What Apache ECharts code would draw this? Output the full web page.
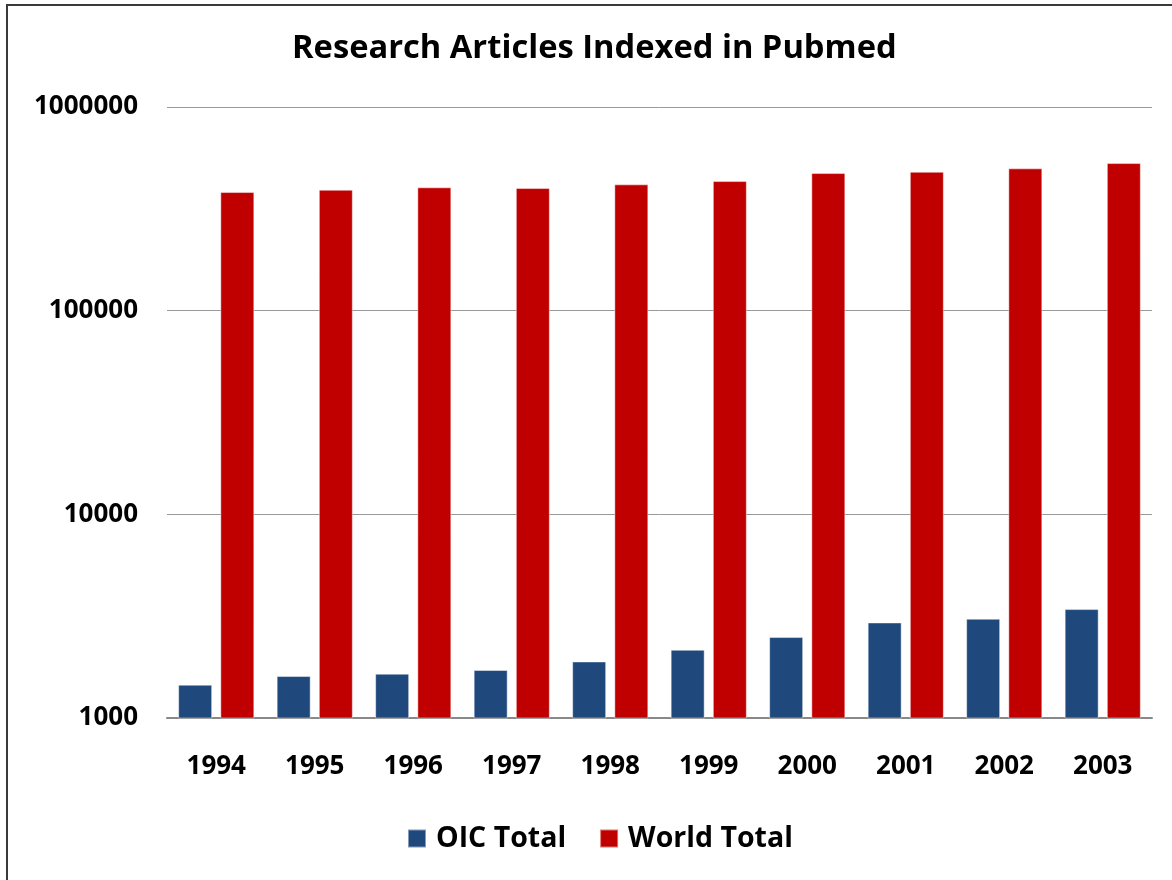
<!DOCTYPE html>
<html>
<head>
<meta charset="utf-8">
<script src="https://cdn.jsdelivr.net/npm/echarts@6/dist/echarts.min.js"></script>
<style>
  html, body { margin: 0; padding: 0; background: #fff; }
  #frame { position: absolute; left: 6px; top: 4px; width: 1200px; height: 1000px; border: 2px solid #3a3a3a; }
  #chart { position: absolute; left: 0; top: 0; width: 1172px; height: 880px; }
</style>
</head>
<body>
<div id="frame"></div>
<div id="chart"></div>
<script>
var years = ['1994', '1995', '1996', '1997', '1998', '1999', '2000', '2001', '2002', '2003'];
var oicTotal = [1457, 1607, 1650, 1720, 1895, 2163, 2497, 2945, 3071, 3426];
var worldTotal = [382300, 392400, 403200, 400000, 417000, 432900, 473900, 480900, 499700, 530500];

var font = '"Open Sans", "Liberation Sans", sans-serif';
var chart = echarts.init(document.getElementById('chart'));

chart.setOption({
  animation: false,
  title: {
    text: 'Research Articles Indexed in Pubmed',
    left: 287,
    top: 27,
    textStyle: { fontFamily: font, fontWeight: 'bold', fontSize: 32.7, color: '#000' }
  },
  legend: {
    top: 819,
    left: 402,
    itemWidth: 18,
    itemHeight: 18,
    itemGap: 33,
    icon: 'rect',
    textStyle: { fontFamily: font, fontWeight: 'bold', fontSize: 28.5, color: '#000', padding: [0, 0, 0, 5] },
    data: ['OIC Total', 'World Total']
  },
  grid: { left: 167, right: 20, top: 107, bottom: 162, containLabel: false },
  xAxis: {
    type: 'category',
    data: years,
    axisLine: { lineStyle: { color: '#888', width: 2 } },
    axisTick: { show: false },
    axisLabel: { fontFamily: font, fontWeight: 'bold', fontSize: 26, color: '#000', margin: 36 }
  },
  yAxis: {
    type: 'log',
    logBase: 10,
    min: 1000,
    max: 1000000,
    axisLine: { show: false },
    axisTick: { show: false },
    splitLine: { lineStyle: { color: '#999', width: 1 } },
    axisLabel: {
      fontFamily: font, fontWeight: 'bold', fontSize: 26, color: '#000', margin: 29,
      formatter: function (v) { return String(Math.round(v)); }
    }
  },
  series: [
    {
      name: 'OIC Total',
      type: 'bar',
      data: oicTotal,
      barWidth: 34,
      barGap: '24%',
      itemStyle: { color: '#1F497D', borderColor: 'rgba(255,255,255,0.45)', borderWidth: 1 }
    },
    {
      name: 'World Total',
      type: 'bar',
      data: worldTotal,
      barWidth: 34,
      itemStyle: { color: '#C00000', borderColor: 'rgba(255,255,255,0.45)', borderWidth: 1 }
    }
  ]
});
</script>
</body>
</html>
